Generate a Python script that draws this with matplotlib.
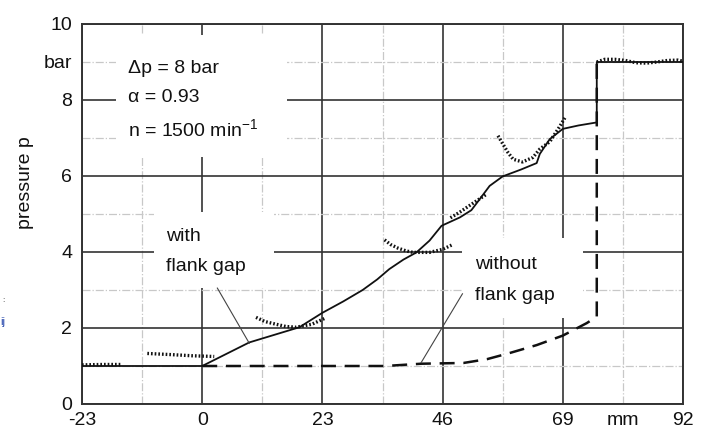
import numpy as np
import matplotlib
matplotlib.use('Agg')
import matplotlib.pyplot as plt
from matplotlib.patches import Rectangle

plt.rcParams['font.family'] = ['Liberation Sans', 'DejaVu Sans']
plt.rcParams['mathtext.fontset'] = 'custom'
plt.rcParams['mathtext.rm'] = 'Liberation Sans'
plt.rcParams['axes.unicode_minus'] = False

# simulated curve, with flank gap (solid)
with_x = [-23, 0, 9, 18.6, 23, 27, 30.7, 33.5, 35.8, 38.5, 41, 43.5, 45.8, 49.3, 51.5, 53.1, 55, 57.5, 61, 64, 64.6, 66.5, 69, 72, 75.5, 75.5, 92]
with_y = [1.0, 1.0, 1.62, 2.02, 2.4, 2.7, 3.0, 3.28, 3.55, 3.8, 3.99, 4.3, 4.69, 4.91, 5.1, 5.39, 5.74, 5.99, 6.17, 6.34, 6.58, 6.97, 7.24, 7.33, 7.41, 9.0, 9.0]

# simulated curve, without flank gap (dashed)
without_x = [0, 35, 41.9, 50, 54.5, 58.8, 64, 69, 73.6, 75.5, 75.5]
without_y = [1.0, 1.0, 1.06, 1.08, 1.18, 1.34, 1.55, 1.8, 2.13, 2.3, 9.0]

# measured pressure (dotted segments)
meas_x = [
    [-23, -19, -15.3],
    [-10.5, -6, -2, 2.3],
    [10.3, 12, 14.1, 16, 18, 21, 23.4],
    [34.9, 36, 37.5, 39, 40.3, 43.5, 46, 48],
    [47.5, 49.3, 52, 54.4],
    [56.6, 57.5, 58.5, 59.5, 61.3, 63.3, 64.6, 66.5, 68.4, 69.4],
    [75.5, 77, 79, 81, 83, 85, 87, 89, 91, 92],
]
meas_y = [
    [1.03, 1.04, 1.04],
    [1.33, 1.3, 1.27, 1.25],
    [2.28, 2.17, 2.1, 2.04, 2.02, 2.1, 2.25],
    [4.32, 4.2, 4.1, 4.03, 3.99, 3.99, 4.07, 4.2],
    [4.9, 5.05, 5.3, 5.52],
    [7.06, 6.85, 6.62, 6.44, 6.37, 6.49, 6.71, 6.9, 7.3, 7.53],
    [9.0, 9.07, 9.07, 9.04, 8.98, 8.97, 9.0, 9.04, 9.05, 9.02],
]

xticks = [-23, 0, 23, 46, 69, 92]
xminor = [-11.5, 11.5, 34.5, 57.5, 80.5]
xminor_labels = ['', '', '', '', 'mm']
yticks = [0, 2, 4, 6, 8, 10]
yminor = [1, 3, 5, 7, 9]
yminor_labels = ['', '', '', '', 'bar']

fig = plt.figure(figsize=(7.11, 4.28), dpi=100)
ax = fig.add_axes([82/711, 1-404/428, 601/711, 380/428])

ax.set_xlim(-23, 92)
ax.set_ylim(0, 10)
ax.set_xticks(xticks)
ax.set_xticks(xminor, xminor_labels, minor=True)
ax.set_yticks(yticks)
ax.set_yticks(yminor, yminor_labels, minor=True)
ax.tick_params(which='both', length=0, labelsize=14, colors='#111111')
ax.tick_params(axis='x', which='both', pad=6)
ax.tick_params(axis='y', which='both', pad=7)
ax.set_axisbelow(True)
ax.grid(which='major', color='#333333', lw=1.2)
ax.grid(which='minor', color='#c8c8c8', lw=0.9, ls='-.')
for s in ax.spines.values():
    s.set_color('#333333')
    s.set_linewidth(1.4)

# white boxes behind the labels
for (x0, y0, w, h) in [(-16.5, 6.5, 32.8, 3.2), (-9.2, 3.05, 23.0, 2.0), (49.8, 2.26, 23.0, 2.11)]:
    ax.add_patch(Rectangle((x0, y0), w, h, facecolor='white', edgecolor='none', zorder=1))

ax.plot(with_x, with_y, color='#111111', lw=1.3, zorder=3)
ax.plot(without_x, without_y, color='#111111', lw=1.8, dashes=(6, 3.5), zorder=3)
for mx, my in zip(meas_x, meas_y):
    ax.plot(mx, my, color='#111111', lw=2.4, ls=(0, (0.5, 0.6)), zorder=4)

# leader lines
ax.plot([2.9, 9], [3.05, 1.6], color='#444444', lw=0.8, zorder=3)
ax.plot([49.8, 41.9], [2.9, 1.09], color='#444444', lw=0.8, zorder=3)

tk = dict(fontsize=14, color='#111111', va='baseline', zorder=5)
ax.text(-14.2, 8.71, '\u0394p = 8 bar', **tk)
ax.text(-14.2, 7.95, '\u03b1 = 0.93', **tk)
ax.text(-14.2, 7.03, 'n = 1500 min$^{-1}$', **tk)
ax.text(-6.9, 4.3, 'with', **tk)
ax.text(-6.9, 3.5, 'flank gap', **tk)
ax.text(52.2, 3.55, 'without', **tk)
ax.text(52.2, 2.75, 'flank gap', **tk)

fig.text(25/711, 1-183/428, 'pressure p', rotation=90, fontsize=14,
         ha='center', va='center', color='#111111')

# stray marks from the page crop
fig.text(2/711, 1-300/428, ':', fontsize=6, color='#222222', va='center')
fig.text(0/711, 1-322/428, 'ij', fontsize=8, color='#2244aa', va='center')

fig.savefig('out.png', dpi=100)
